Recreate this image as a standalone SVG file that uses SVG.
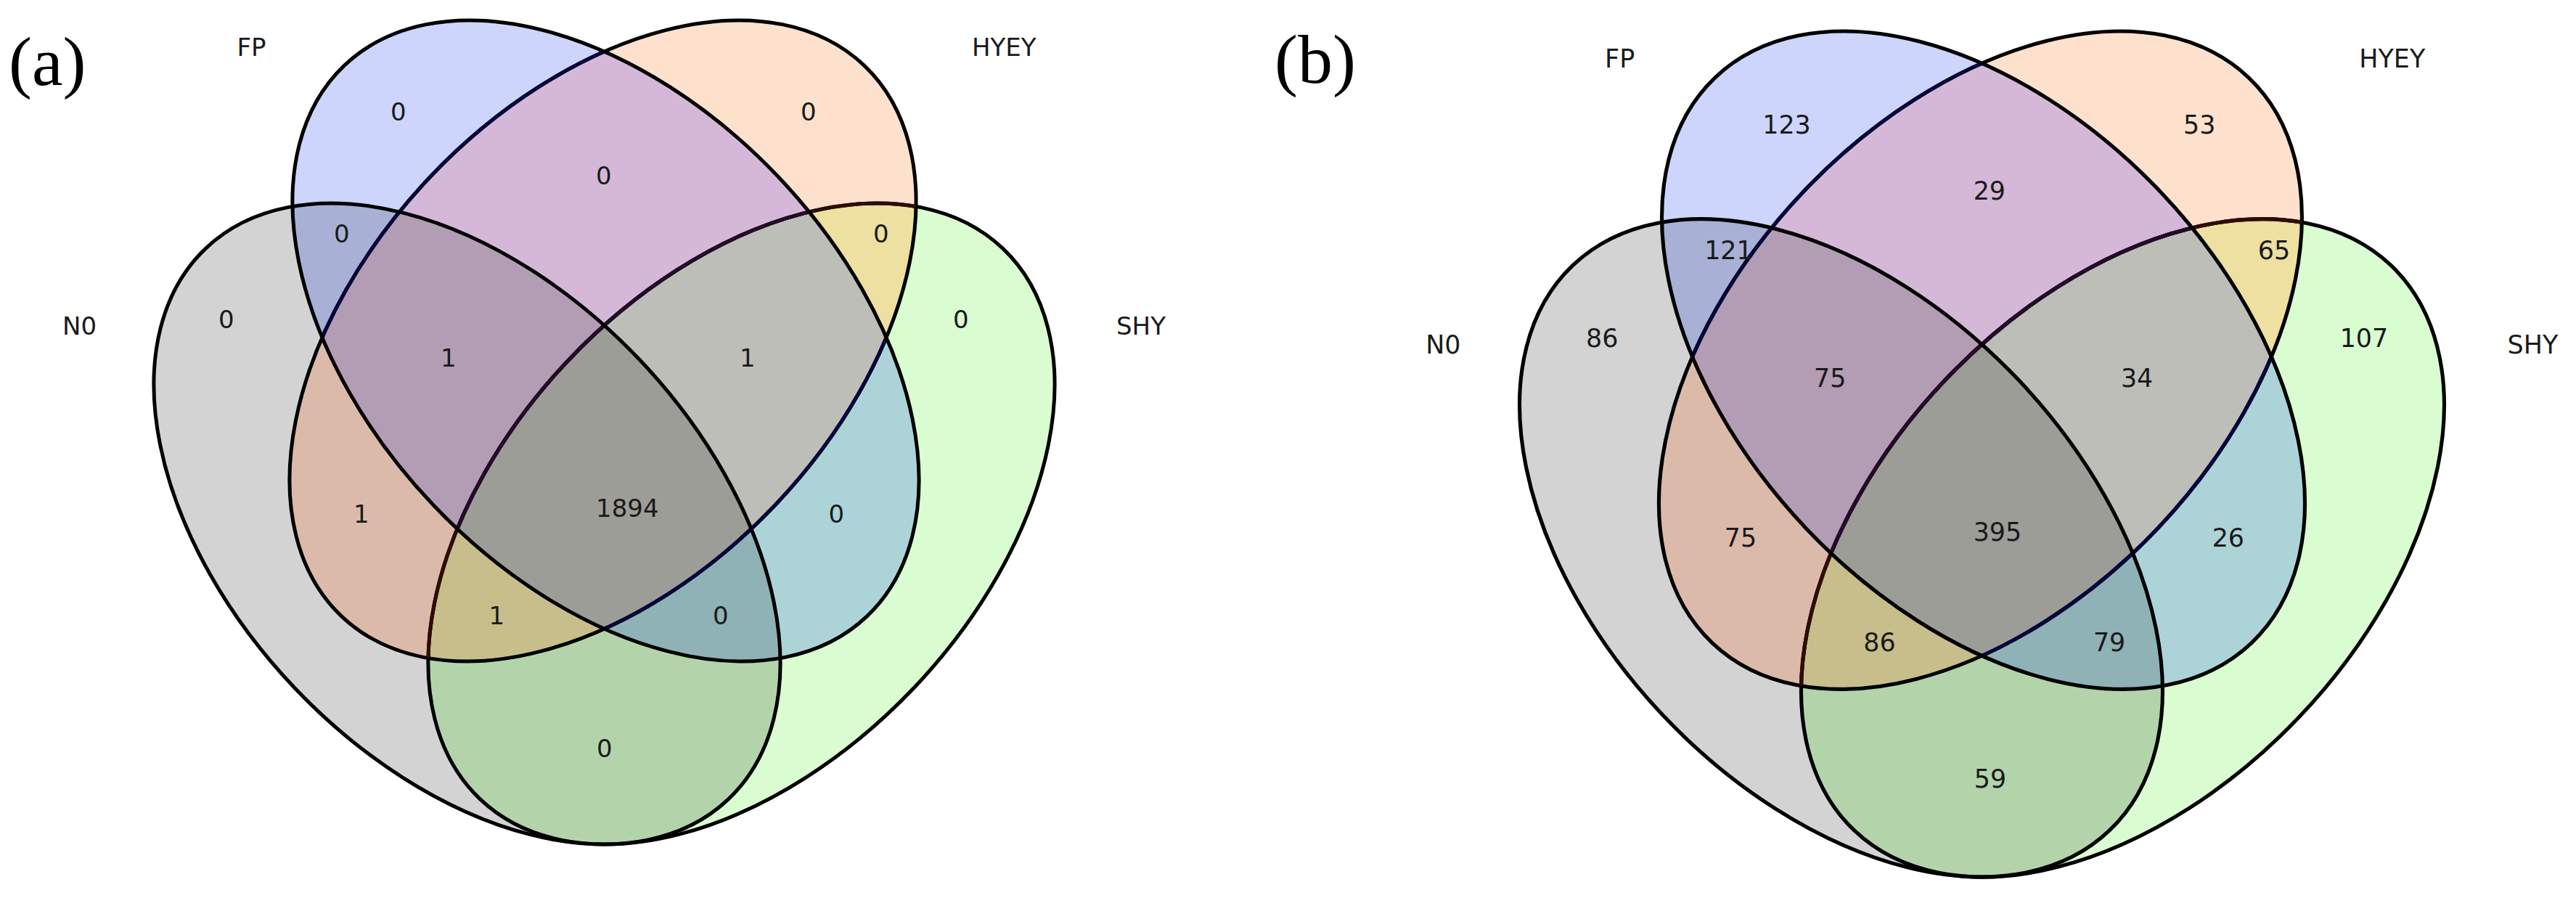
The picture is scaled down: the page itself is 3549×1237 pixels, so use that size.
<svg xmlns="http://www.w3.org/2000/svg" xmlns:xlink="http://www.w3.org/1999/xlink" width="3549" height="1237" viewBox="0 0 3549 1237">
<style>
.lbl { font-family: "DejaVu Sans", "Liberation Sans", sans-serif; font-size: 34px; fill: #1a1a1a; }
.panel { font-family: "Liberation Serif", "Times New Roman", serif; font-size: 96px; fill: #000; }
.outline { fill: none; stroke: #000; stroke-width: 5; }
.tBrown { fill: none; stroke: #2e0c02; stroke-width: 5; }
.tNavy { fill: none; stroke: #06063c; stroke-width: 5; }
.tPurple { fill: none; stroke: #260a2a; stroke-width: 5; }
.fN0 { fill: #d3d3d3; } .fFP { fill: #cdd5fc; } .fHY { fill: #fee1cd; } .fSH { fill: #d9fdd0; }
.fN0FP { fill: #a9b0d6; } .fN0HY { fill: #dcbaaa; } .fN0SH { fill: #b3d4aa; }
.fFPHY { fill: #d5b8d8; } .fFPSH { fill: #acd4d8; } .fHYSH { fill: #ede0a0; }
.fN0FPHY { fill: #b39db4; } .fN0FPSH { fill: #8fb2b6; } .fN0HYSH { fill: #c7be8b; } .fFPHYSH { fill: #bebeb8; }
.fALL { fill: #9d9d97; }
</style>
<defs>
<ellipse id="eN0" cx="643.5" cy="721.5" rx="523" ry="328" transform="rotate(46.5 643.5 721.5)"/>
<ellipse id="eFP" cx="834.5" cy="469.5" rx="523" ry="328" transform="rotate(46.5 834.5 469.5)"/>
<ellipse id="eHY" cx="830.5" cy="469.5" rx="523" ry="328" transform="rotate(-46.5 830.5 469.5)"/>
<ellipse id="eSH" cx="1021.5" cy="721.5" rx="523" ry="328" transform="rotate(-46.5 1021.5 721.5)"/>
<clipPath id="cN0"><use xlink:href="#eN0" href="#eN0"/></clipPath>
<clipPath id="cFP"><use xlink:href="#eFP" href="#eFP"/></clipPath>
<clipPath id="cHY"><use xlink:href="#eHY" href="#eHY"/></clipPath>
<clipPath id="cN0FP" clip-path="url(#cN0)"><use xlink:href="#eFP" href="#eFP"/></clipPath>
<clipPath id="cN0HY" clip-path="url(#cN0)"><use xlink:href="#eHY" href="#eHY"/></clipPath>
<clipPath id="cFPHY" clip-path="url(#cFP)"><use xlink:href="#eHY" href="#eHY"/></clipPath>
<clipPath id="cN0FPHY" clip-path="url(#cN0FP)"><use xlink:href="#eHY" href="#eHY"/></clipPath>
<g id="venn">
  <use href="#eN0" class="fN0"/>
  <use href="#eFP" class="fFP"/>
  <use href="#eHY" class="fHY"/>
  <use href="#eSH" class="fSH"/>
  <use href="#eFP" class="fN0FP" clip-path="url(#cN0)"/>
  <use href="#eHY" class="fN0HY" clip-path="url(#cN0)"/>
  <use href="#eSH" class="fN0SH" clip-path="url(#cN0)"/>
  <use href="#eHY" class="fFPHY" clip-path="url(#cFP)"/>
  <use href="#eSH" class="fFPSH" clip-path="url(#cFP)"/>
  <use href="#eSH" class="fHYSH" clip-path="url(#cHY)"/>
  <use href="#eHY" class="fN0FPHY" clip-path="url(#cN0FP)"/>
  <use href="#eSH" class="fN0FPSH" clip-path="url(#cN0FP)"/>
  <use href="#eSH" class="fN0HYSH" clip-path="url(#cN0HY)"/>
  <use href="#eSH" class="fFPHYSH" clip-path="url(#cFPHY)"/>
  <use href="#eSH" class="fALL" clip-path="url(#cN0FPHY)"/>
  <use href="#eSH" class="outline"/>
  <use href="#eHY" class="outline"/>
  <use href="#eSH" class="tBrown" clip-path="url(#cHY)"/>
  <use href="#eSH" class="tNavy" clip-path="url(#cFP)"/>
  <use href="#eSH" class="tPurple" clip-path="url(#cFPHY)"/>
  <use href="#eHY" class="tNavy" clip-path="url(#cFP)"/>
  <use href="#eFP" class="outline"/>
  <use href="#eN0" class="outline"/>
</g>
</defs>
<rect width="3549" height="1237" fill="#fff"/>

<g id="panel-a">
  <text class="panel" x="12" y="117">(a)</text>
  <g id="a-sets"><use href="#venn"/></g>
  <g id="a-N0"><text class="lbl" x="86" y="461">N0</text></g>
  <g id="a-FP"><text class="lbl" x="326.5" y="76.5">FP</text></g>
  <g id="a-HYEY"><text class="lbl" x="1339" y="76.5">HYEY</text></g>
  <g id="a-SHY"><text class="lbl" x="1538" y="461">SHY</text></g>
  <g id="a-counts">
    <text class="lbl" x="538" y="165.5">0</text>
    <text class="lbl" x="1103" y="165.5">0</text>
    <text class="lbl" x="821" y="254">0</text>
    <text class="lbl" x="460" y="333.5">0</text>
    <text class="lbl" x="1203" y="333.5">0</text>
    <text class="lbl" x="301" y="451.5">0</text>
    <text class="lbl" x="1313" y="451.5">0</text>
    <text class="lbl" x="607" y="505">1</text>
    <text class="lbl" x="1019" y="505">1</text>
    <text class="lbl" x="487" y="720">1</text>
    <text class="lbl" x="821" y="712">1894</text>
    <text class="lbl" x="1141.5" y="720">0</text>
    <text class="lbl" x="673.5" y="860">1</text>
    <text class="lbl" x="982" y="860">0</text>
    <text class="lbl" x="822" y="1043">0</text>
  </g>
</g>

<g id="panel-b">
  <text class="panel" x="1756" y="114">(b)</text>
  <g transform="translate(1876,14.3) scale(1.0264)">
    <g id="b-sets"><use href="#venn"/></g>
    <g id="b-N0"><text class="lbl" x="86" y="461">N0</text></g>
    <g id="b-FP"><text class="lbl" x="326.5" y="76.5">FP</text></g>
    <g id="b-HYEY"><text class="lbl" x="1339" y="76.5">HYEY</text></g>
    <g id="b-SHY"><text class="lbl" x="1538" y="461">SHY</text></g>
    <g id="b-counts">
      <text class="lbl" x="538" y="165.5">123</text>
      <text class="lbl" x="1103" y="165.5">53</text>
      <text class="lbl" x="821" y="254">29</text>
      <text class="lbl" x="460" y="333.5">121</text>
      <text class="lbl" x="1203" y="333.5">65</text>
      <text class="lbl" x="301" y="451.5">86</text>
      <text class="lbl" x="1313" y="451.5">107</text>
      <text class="lbl" x="607" y="505">75</text>
      <text class="lbl" x="1019" y="505">34</text>
      <text class="lbl" x="487" y="720">75</text>
      <text class="lbl" x="821" y="712">395</text>
      <text class="lbl" x="1141.5" y="720">26</text>
      <text class="lbl" x="673.5" y="860">86</text>
      <text class="lbl" x="982" y="860">79</text>
      <text class="lbl" x="822" y="1043">59</text>
    </g>
  </g>
</g>
</svg>
